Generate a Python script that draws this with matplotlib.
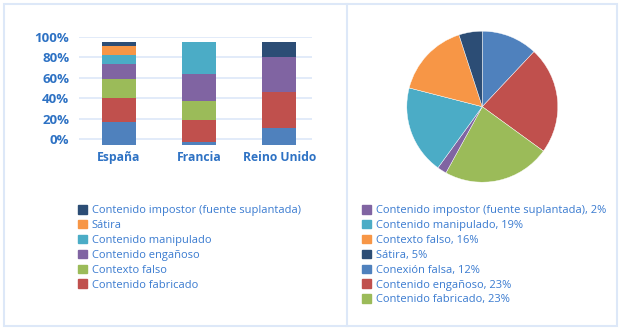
import matplotlib.pyplot as plt
from matplotlib.patches import Patch, Rectangle
from matplotlib.lines import Line2D

# datos del grafico de barras (porcentaje apilado)
paises = ['España', 'Francia', 'Reino Unido']
inicio = -6  # las barras del original arrancan por debajo del 0%
conexion = [23, 3, 17]
fabricado = [23, 22, 35]
contexto = [19, 18, 0]
enganoso = [14, 27, 34]
manipulado = [9, 31, 0]
satira = [9, 0, 0]
impostor = [4, 0, 15]
yticks = [0, 20, 40, 60, 80, 100]

# datos del grafico circular (sentido horario desde arriba)
pie_labels = ['Conexión falsa', 'Contenido engañoso', 'Contenido fabricado',
              'Contenido impostor (fuente suplantada)', 'Contenido manipulado',
              'Contexto falso', 'Sátira']
pie_values = [12, 23, 23, 2, 19, 16, 5]
pie_legend_order = [3, 4, 5, 6, 0, 1, 2]

AZUL = '#4F81BD'
ROJO = '#C0504D'
VERDE = '#9BBB59'
MORADO = '#8064A2'
TURQ = '#4BACC6'
NARANJA = '#F79646'
MARINO = '#2C4D75'
TXT = '#2E72C4'
TXT2 = '#3A7BD0'
LINEA = '#DDE8F8'

plt.rcParams['font.family'] = ['Open Sans', 'DejaVu Sans']

W, H = 621, 330
fig = plt.figure(figsize=(W / 100, H / 100), dpi=100)

# marco y separador
fig.patches.append(Rectangle((4 / W, 4 / H), 613 / W, 322 / H, transform=fig.transFigure,
                             fill=False, edgecolor=LINEA, lw=1.5))
fig.lines.append(Line2D([347 / W, 347 / W], [4 / H, 326 / H], transform=fig.transFigure,
                        color=LINEA, lw=1.5))

# barras apiladas
ax = fig.add_axes([79 / W, (H - 145.3) / H, 233 / W, 108.6 / H])
series = [('Conexión falsa', conexion, AZUL),
          ('Contenido fabricado', fabricado, ROJO),
          ('Contexto falso', contexto, VERDE),
          ('Contenido engañoso', enganoso, MORADO),
          ('Contenido manipulado', manipulado, TURQ),
          ('Sátira', satira, NARANJA),
          ('Contenido impostor (fuente suplantada)', impostor, MARINO)]
x = list(range(len(paises)))
fondo = [inicio] * len(paises)
handles = []
for nombre, vals, col in series:
    ax.bar(x, vals, bottom=fondo, width=0.42, color=col, zorder=3)
    fondo = [f + v for f, v in zip(fondo, vals)]
    if nombre != 'Conexión falsa':
        handles.append(Patch(color=col, label=nombre))
handles = handles[::-1]

ax.set_xlim(-0.5, 2.41)
ax.set_ylim(inicio - 0.2, 100)
ax.set_yticks(yticks)
ax.set_yticklabels([f'{t}%' for t in yticks])
ax.set_xticks(x)
ax.set_xticklabels(paises)
for t in yticks:
    ax.axhline(t, color=LINEA, lw=1.2, zorder=1)
for s in ax.spines.values():
    s.set_visible(False)
ax.tick_params(length=0, labelcolor=TXT, labelsize=9.5)
ax.tick_params(axis='y', pad=7)
ax.tick_params(axis='x', pad=4, labelsize=8.7)
for lab in ax.get_xticklabels() + ax.get_yticklabels():
    lab.set_fontweight('bold')

fig.legend(handles=handles, loc='upper left', bbox_to_anchor=(78 / W, (H - 205) / H),
           frameon=False, fontsize=8, labelcolor=TXT2, handlelength=0.8, handleheight=0.8,
           handletextpad=0.45, labelspacing=0.34, borderpad=0, borderaxespad=0)

# grafico circular
ax2 = fig.add_axes([406.8 / W, (H - 106.7 - 75.5) / H, 151 / W, 151 / H])
pie_colors = [AZUL, ROJO, VERDE, MORADO, TURQ, NARANJA, MARINO]
ax2.pie(pie_values, colors=pie_colors, startangle=90, counterclock=False, radius=1,
        wedgeprops=dict(edgecolor='white', linewidth=0.3))
ax2.set_xlim(-1, 1)
ax2.set_ylim(-1, 1)
ax2.set_aspect('equal')

handles2 = [Patch(color=pie_colors[i], label=f'{pie_labels[i]}, {pie_values[i]}%')
            for i in pie_legend_order]
fig.legend(handles=handles2, loc='upper left', bbox_to_anchor=(362 / W, (H - 205) / H),
           frameon=False, fontsize=8, labelcolor=TXT2, handlelength=0.8, handleheight=0.8,
           handletextpad=0.45, labelspacing=0.34, borderpad=0, borderaxespad=0)

fig.savefig('out.png', dpi=100)
